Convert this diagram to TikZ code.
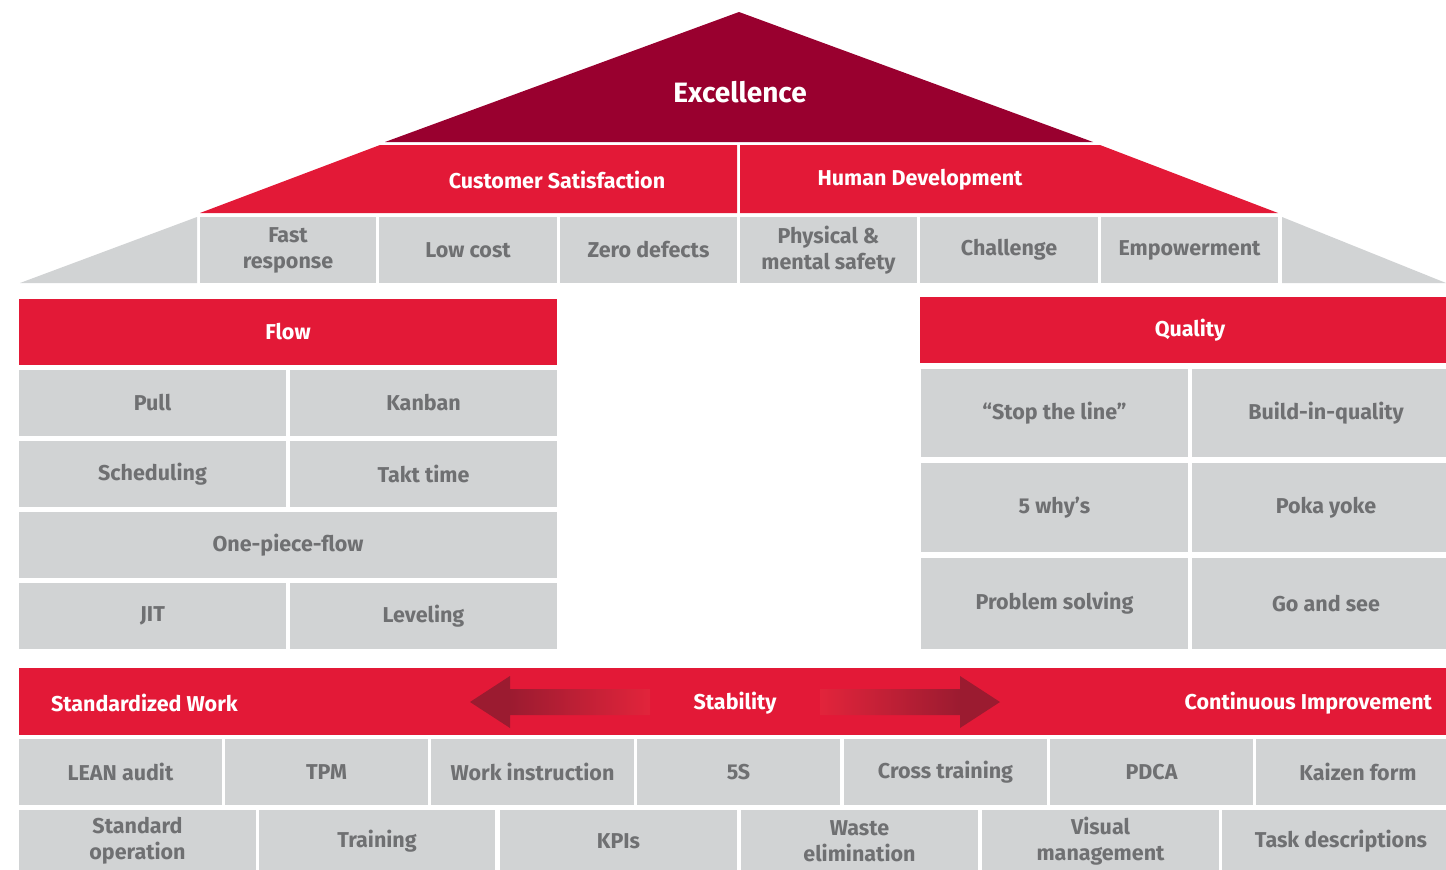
\documentclass[tikz,border=0pt]{standalone}
\usepackage{fontspec}
\setmainfont{Fira Sans}
\definecolor{roofdark}{HTML}{99002F}
\definecolor{brandred}{HTML}{E31937}
\definecolor{cellgray}{HTML}{D1D3D4}
\definecolor{txtgray}{HTML}{6F7072}
\definecolor{arrowdark}{HTML}{9B1B30}
\definecolor{arrowend}{HTML}{E2243B}
\pgfdeclarehorizontalshading{arrowshadeL}{100bp}{color(0bp)=(arrowdark); color(25bp)=(arrowdark); color(36bp)=(arrowdark); color(75bp)=(arrowend); color(100bp)=(arrowend)}
\pgfdeclarehorizontalshading{arrowshadeR}{100bp}{color(0bp)=(arrowend); color(25bp)=(arrowend); color(64bp)=(arrowdark); color(75bp)=(arrowdark); color(100bp)=(arrowdark)}
\tikzset{
  base/.style={inner sep=0pt, outer sep=0pt, align=center},
  graycell/.style={base, fill=cellgray, text=txtgray, font=\fontsize{21.5}{26}\selectfont\bfseries},
  redhead/.style={base, fill=brandred, text=white, font=\fontsize{21.5}{26}\selectfont\bfseries},
  whitelabel/.style={base, text=white, font=\fontsize{21.5}{26}\selectfont\bfseries},
  biglabel/.style={base, text=white, font=\fontsize{28}{32}\selectfont\bfseries},
}
\newcommand\blk[7]{\node[#1,minimum width={(#4-#2)*1pt},minimum height={(#5-#3)*1pt}] (#6) at ({(#2+#4)/2},{(#3+#5)/2}) {#7};}
\begin{document}
\begin{tikzpicture}[x=1pt,y=-1pt]
\useasboundingbox (0,0) rectangle (1446,870);
\clip (0,0) rectangle (1446,870);
% roof
\fill[roofdark] (739,12) -- (1093,142) -- (385,142) -- cycle;
\node[biglabel] (excellence) at (740,92) {Excellence};
\fill[brandred] (380,145) -- (737,145) -- (737,213) -- (200,213) -- cycle;
\fill[brandred] (740,145) -- (1100,145) -- (1278,213) -- (740,213) -- cycle;
\node[whitelabel] (custsat) at (557,180) {Customer Satisfaction};
\node[whitelabel] (humdev) at (920,180) {Human Development};
\fill[cellgray] (197,217) -- (197,283) -- (20,283) -- cycle;
\fill[cellgray] (1282,217) -- (1446,283) -- (1282,283) -- cycle;
\blk{graycell}{200}{217}{376}{283}{fast}{Fast\\response}
\blk{graycell}{379}{217}{557}{283}{lowcost}{Low cost}
\blk{graycell}{560}{217}{737}{283}{zerodef}{Zero defects}
\blk{graycell}{740}{217}{917}{283}{safety}{Physical \&\\mental safety}
\blk{graycell}{920}{217}{1098}{283}{challenge}{Challenge}
\blk{graycell}{1101}{217}{1278}{283}{empower}{Empowerment}
% flow pillar
\blk{redhead}{19}{299}{557}{365}{flow}{Flow}
\blk{graycell}{19}{370}{286}{436}{pull}{Pull}
\blk{graycell}{290}{370}{557}{436}{kanban}{Kanban}
\blk{graycell}{19}{441}{286}{507}{sched}{Scheduling}
\blk{graycell}{290}{441}{557}{507}{takt}{Takt time}
\blk{graycell}{19}{512}{557}{578}{onepiece}{One-piece-flow}
\blk{graycell}{19}{583}{286}{649}{jit}{JIT}
\blk{graycell}{290}{583}{557}{649}{level}{Leveling}
% quality pillar
\blk{redhead}{920}{297}{1460}{363}{quality}{Quality}
\blk{graycell}{921}{369}{1188}{457}{stopline}{“Stop the line”}
\blk{graycell}{1192}{369}{1460}{457}{buildin}{Build-in-quality}
\blk{graycell}{921}{463}{1188}{552}{fivewhy}{5 why’s}
\blk{graycell}{1192}{463}{1460}{552}{poka}{Poka yoke}
\blk{graycell}{921}{558}{1188}{649}{probsolve}{Problem solving}
\blk{graycell}{1192}{558}{1460}{649}{gosee}{Go and see}
% stability band
\blk{redhead}{19}{668}{1460}{735}{band}{}
\shade[shading=arrowshadeL] (470,702) -- (510,676) -- (510,689) -- (650,689) -- (650,715) -- (510,715) -- (510,728) -- cycle;
\shade[shading=arrowshadeR] (1000,702) -- (960,676) -- (960,689) -- (820,689) -- (820,715) -- (960,715) -- (960,728) -- cycle;
\node[whitelabel, anchor=west] (stdwork) at (51,703) {Standardized Work};
\node[whitelabel] (stability) at (735,703) {Stability};
\node[whitelabel, anchor=east] (contimp) at (1432,703) {Continuous Improvement};
% bottom rows
\blk{graycell}{19}{739}{222}{805}{lean}{LEAN audit}
\blk{graycell}{225}{739}{428}{805}{tpm}{TPM}
\blk{graycell}{431}{739}{634}{805}{workinst}{Work instruction}
\blk{graycell}{637}{739}{840}{805}{fives}{5S}
\blk{graycell}{844}{739}{1047}{805}{cross}{Cross training}
\blk{graycell}{1050}{739}{1253}{805}{pdca}{PDCA}
\blk{graycell}{1256}{739}{1460}{805}{kaizen}{Kaizen form}
\blk{graycell}{19}{810}{256}{872}{stdop}{Standard\\operation}
\blk{graycell}{259}{810}{495}{872}{training}{Training}
\blk{graycell}{500}{810}{737}{872}{kpis}{KPIs}
\blk{graycell}{741}{810}{978}{872}{waste}{Waste\\elimination}
\blk{graycell}{982}{810}{1219}{872}{visual}{Visual\\management}
\blk{graycell}{1222}{810}{1460}{872}{task}{Task descriptions}
\end{tikzpicture}
\end{document}
